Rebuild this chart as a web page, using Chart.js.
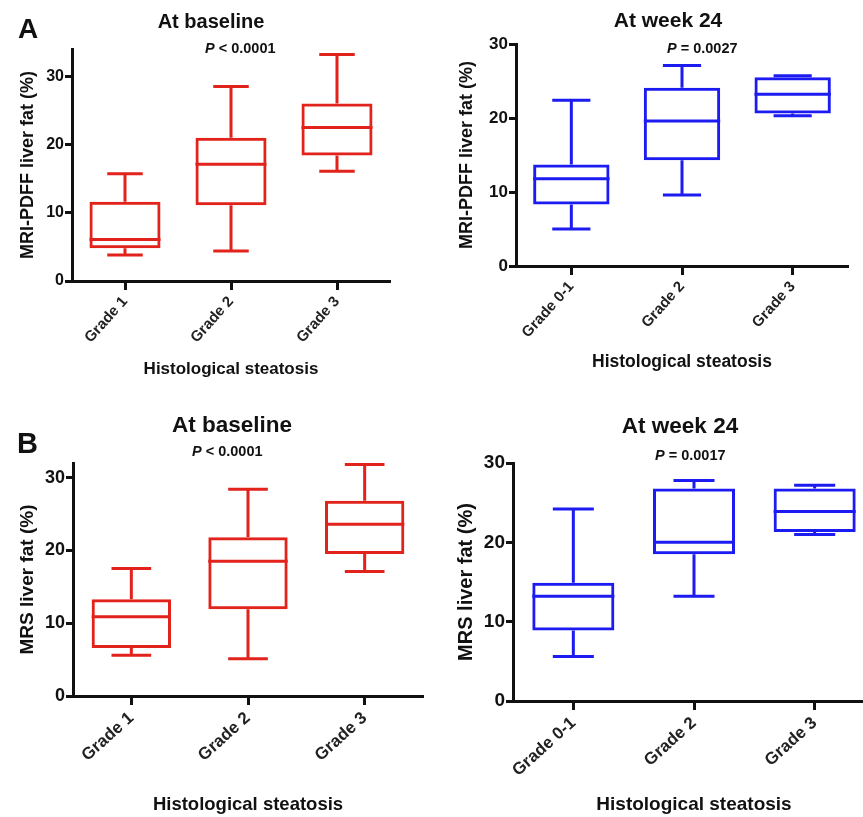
<!DOCTYPE html>
<html>
<head>
<meta charset="utf-8">
<script src="https://cdn.jsdelivr.net/npm/chart.js@4"></script>
<style>
  body { margin: 0; background: #fff; }
  #page { position: relative; width: 863px; height: 817px; overflow: hidden; background: #fff; }
  canvas { position: absolute; }
</style>
</head>
<body>
<div id="page">
  <canvas id="aLeft" width="430" height="390" style="left:0px;top:0px"></canvas>
  <canvas id="aRight" width="433" height="390" style="left:430px;top:0px"></canvas>
  <canvas id="bLeft" width="430" height="417" style="left:0px;top:400px"></canvas>
  <canvas id="bRight" width="450" height="417" style="left:430px;top:400px"></canvas>
</div>
<script>
// categories
const gradesBaseline = ['Grade 1', 'Grade 2', 'Grade 3'];
const gradesWeek24 = ['Grade 0-1', 'Grade 2', 'Grade 3'];
const yTicks = [0, 10, 20, 30];

// A - MRI-PDFF, baseline (min, q1, median, q3, max)
const pdffBaseMin = [3.8, 4.4, 16.1];
const pdffBaseQ1 = [4.8, 11.1, 18.4];
const pdffBaseMed = [6.1, 17.1, 22.5];
const pdffBaseQ3 = [11.6, 21.0, 26.0];
const pdffBaseMax = [15.7, 28.5, 33.2];

// A - MRI-PDFF, week 24
const pdffW24Min = [5.0, 9.6, 20.3];
const pdffW24Q1 = [8.3, 14.3, 20.6];
const pdffW24Med = [11.8, 19.6, 23.2];
const pdffW24Q3 = [13.7, 24.1, 25.5];
const pdffW24Max = [22.4, 27.1, 25.7];

// B - MRS, baseline
const mrsBaseMin = [5.6, 5.1, 17.1];
const mrsBaseQ1 = [6.6, 11.9, 19.5];
const mrsBaseMed = [10.9, 18.5, 23.6];
const mrsBaseQ3 = [13.3, 21.8, 26.8];
const mrsBaseMax = [17.5, 28.4, 31.8];

// B - MRS, week 24
const mrsW24Min = [5.6, 13.2, 21.0];
const mrsW24Q1 = [8.9, 18.5, 21.3];
const mrsW24Med = [13.2, 20.0, 23.9];
const mrsW24Q3 = [14.9, 26.8, 26.8];
const mrsW24Max = [24.2, 27.8, 27.2];

const RED = '#e2231b';
const BLUE = '#1c1cf2';
const FONT = '"Liberation Sans", Arial, sans-serif';

// median line + whiskers, drawn on top of the floating bars (the boxes)
const boxWhiskers = {
    id: 'boxWhiskers',
    afterDatasetsDraw(chart, args, opts) {
        const y = chart.scales.y;
        const bars = chart.getDatasetMeta(0).data;
        const ctx = chart.ctx;
        ctx.save();
        ctx.strokeStyle = opts.color;
        ctx.lineWidth = 3;
        bars.forEach(function (bar, i) {
            const half = bar.width / 2;
            const cap = half * opts.capFrac;
            const yMin = y.getPixelForValue(opts.min[i]);
            const yQ1 = y.getPixelForValue(opts.q1[i]);
            const yMed = y.getPixelForValue(opts.med[i]);
            const yQ3 = y.getPixelForValue(opts.q3[i]);
            const yMax = y.getPixelForValue(opts.max[i]);
            ctx.beginPath();
            ctx.moveTo(bar.x - half, yMed); ctx.lineTo(bar.x + half, yMed);
            ctx.moveTo(bar.x, yQ3); ctx.lineTo(bar.x, yMax);
            ctx.moveTo(bar.x - cap, yMax); ctx.lineTo(bar.x + cap, yMax);
            ctx.moveTo(bar.x, yQ1); ctx.lineTo(bar.x, yMin);
            ctx.moveTo(bar.x - cap, yMin); ctx.lineTo(bar.x + cap, yMin);
            ctx.stroke();
        });
        ctx.restore();
    }
};

// panel letter, title and P value
const panelText = {
    id: 'panelText',
    afterDraw(chart, args, o) {
        const ctx = chart.ctx;
        ctx.save();
        ctx.fillStyle = '#111';
        ctx.textBaseline = 'alphabetic';
        if (o.letter) {
            ctx.font = 'bold ' + o.letter.size + 'px ' + FONT;
            ctx.textAlign = 'left';
            ctx.fillText(o.letter.text, o.letter.x, o.letter.y);
        }
        ctx.font = 'bold ' + o.title.size + 'px ' + FONT;
        ctx.textAlign = 'center';
        ctx.fillText(o.title.text, o.title.x, o.title.y);
        ctx.textAlign = 'left';
        ctx.font = 'italic bold ' + o.p.size + 'px ' + FONT;
        ctx.fillText('P', o.p.x, o.p.y);
        const w = ctx.measureText('P').width;
        ctx.font = 'bold ' + o.p.size + 'px ' + FONT;
        ctx.fillText(o.p.rest, o.p.x + w, o.p.y);
        ctx.restore();
    }
};

function BoxPanel(canvasID, labels, min, q1, med, q3, max, look) {
    const ctx = document.getElementById(canvasID).getContext('2d');
    const chart = new Chart(ctx, {
        type: 'bar',
        data: {
            labels: labels,
            datasets: [{
                data: labels.map(function (l, i) { return [q1[i], q3[i]]; }),
                backgroundColor: 'rgba(0,0,0,0)',
                borderColor: look.color,
                borderWidth: 3,
                borderSkipped: false,
                barPercentage: look.boxFrac,
                categoryPercentage: 1
            }]
        },
        options: {
            responsive: false,
            animation: false,
            layout: { padding: { top: look.area.top, right: look.area.right, bottom: 0, left: 0 } },
            plugins: {
                legend: { display: false },
                tooltip: { enabled: false },
                boxWhiskers: { color: look.color, capFrac: 0.5, min: min, q1: q1, med: med, q3: q3, max: max },
                panelText: look.text
            },
            scales: {
                x: {
                    offset: true,
                    grid: { display: true, drawOnChartArea: false, offset: false, tickLength: 9, tickWidth: 3, tickColor: '#111' },
                    border: { display: true, color: '#111', width: 3 },
                    ticks: {
                        autoSkip: false, minRotation: look.rot, maxRotation: look.rot, padding: 3,
                        color: '#222', font: { family: FONT, size: look.xTickSize, weight: 'bold' }
                    },
                    title: {
                        display: true, text: 'Histological steatosis', color: '#111',
                        font: { family: FONT, size: look.xTitleSize, weight: 'bold' },
                        padding: { top: 0, bottom: look.xTitlePad }
                    },
                    afterFit: function (s) { s.height = look.area.xHeight; }
                },
                y: {
                    min: 0,
                    max: look.yMax,
                    grid: { display: true, drawOnChartArea: false, tickLength: 7, tickWidth: 3, tickColor: '#111' },
                    border: { display: true, color: '#111', width: 3 },
                    ticks: {
                        stepSize: 10, padding: 1, color: '#111',
                        font: { family: FONT, size: look.yTickSize, weight: 'bold' }
                    },
                    afterBuildTicks: function (s) {
                        s.ticks = yTicks.map(function (v) { return { value: v }; });
                    },
                    title: {
                        display: true, text: look.yTitle, color: '#111',
                        font: { family: FONT, size: look.yTitleSize, weight: 'bold' },
                        padding: { top: look.yTitlePad, bottom: 0 }
                    },
                    afterFit: function (s) { s.width = look.area.left; }
                }
            }
        },
        plugins: [boxWhiskers, panelText]
    });
    return chart;
}

BoxPanel('aLeft', gradesBaseline, pdffBaseMin, pdffBaseQ1, pdffBaseMed, pdffBaseQ3, pdffBaseMax, {
    color: RED, boxFrac: 0.67, rot: 48, yMax: 34,
    area: { left: 72, right: 40, top: 49, xHeight: 109 },
    xTickSize: 15, xTitleSize: 17, xTitlePad: 10,
    yTickSize: 16, yTitleSize: 18, yTitlePad: 17, yTitle: 'MRI-PDFF liver fat (%)',
    text: {
        letter: { text: 'A', x: 18, y: 38, size: 28 },
        title: { text: 'At baseline', x: 211, y: 28, size: 20 },
        p: { rest: ' < 0.0001', x: 205, y: 53, size: 14.5 }
    }
});

BoxPanel('aRight', gradesWeek24, pdffW24Min, pdffW24Q1, pdffW24Med, pdffW24Q3, pdffW24Max, {
    color: BLUE, boxFrac: 0.69, rot: 48, yMax: 30,
    area: { left: 86, right: 15, top: 44, xHeight: 124 },
    xTickSize: 15, xTitleSize: 17.5, xTitlePad: 17,
    yTickSize: 17, yTitleSize: 18, yTitlePad: 26, yTitle: 'MRI-PDFF liver fat (%)',
    text: {
        title: { text: 'At week 24', x: 238, y: 27, size: 21 },
        p: { rest: ' = 0.0027', x: 237, y: 53, size: 14.5 }
    }
});

BoxPanel('bLeft', gradesBaseline, mrsBaseMin, mrsBaseQ1, mrsBaseMed, mrsBaseQ3, mrsBaseMax, {
    color: RED, boxFrac: 0.68, rot: 42, yMax: 32,
    area: { left: 73, right: 7, top: 63, xHeight: 121 },
    xTickSize: 17, xTitleSize: 18.5, xTitlePad: 1,
    yTickSize: 18, yTitleSize: 19, yTitlePad: 16.6, yTitle: 'MRS liver fat (%)',
    text: {
        letter: { text: 'B', x: 17, y: 53, size: 29 },
        title: { text: 'At baseline', x: 232, y: 32, size: 22.5 },
        p: { rest: ' < 0.0001', x: 192, y: 56, size: 14.5 }
    }
});

BoxPanel('bRight', gradesWeek24, mrsW24Min, mrsW24Q1, mrsW24Med, mrsW24Q3, mrsW24Max, {
    color: BLUE, boxFrac: 0.68, rot: 42, yMax: 30,
    area: { left: 83, right: 5, top: 63, xHeight: 116 },
    xTickSize: 17, xTitleSize: 19, xTitlePad: 1,
    yTickSize: 19, yTitleSize: 20, yTitlePad: 24.7, yTitle: 'MRS liver fat (%)',
    text: {
        title: { text: 'At week 24', x: 250, y: 33, size: 22.5 },
        p: { rest: ' = 0.0017', x: 225, y: 60, size: 14.5 }
    }
});
</script>
</body>
</html>
